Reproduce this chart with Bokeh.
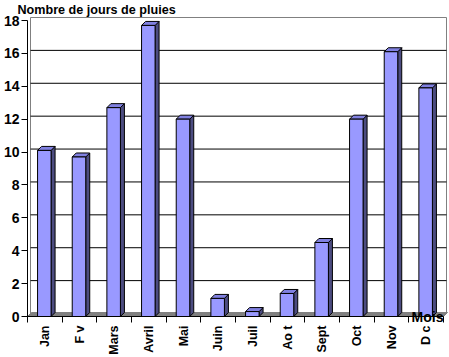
import math
from bokeh.plotting import figure
from bokeh.models import Range1d, FixedTicker, Label
from bokeh.embed import file_html
from bokeh.resources import INLINE

months = ["Jan", "F v", "Mars", "Avril", "Mai", "Juin", "Juil", "Ao t", "Sept", "Oct", "Nov", "D c"]
rain_days = [10.1, 9.7, 12.7, 17.7, 12.0, 1.1, 0.3, 1.4, 4.5, 12.0, 16.1, 13.9]
y_ticks = [0, 2, 4, 6, 8, 10, 12, 14, 16, 18]
title_text = "Nombre de jours de pluies"
x_title = "Mois"

FONT = "Liberation Sans"
n = len(months)
X0, X1 = -0.5, n - 0.5    # category area

# frame covers the whole canvas; axes are placed at fixed locations
PX_X = 416 / n
PX_Y = 296 / 18
DX, DY = 4 / PX_X, 4 / PX_Y       # bar depth
WX, WY = 3 / PX_X, 3 / PX_Y       # back wall offset
L, R = 0.29, 0.68                 # front face position inside a category
x_start = X0 - 27 / PX_X
y_end = 316 / PX_Y
p = figure(width=449, height=357,
           x_range=Range1d(x_start, x_start + 449 / PX_X),
           y_range=Range1d(y_end - 357 / PX_Y, y_end),
           output_backend="svg", toolbar_location=None, min_border=0)
p.title.visible = False
p.outline_line_color = None
p.xgrid.visible = False
p.ygrid.visible = False
p.background_fill_color = "white"
p.border_fill_color = "white"

# floor
p.patch([X0, X1, X1 + DX, X0 + DX], [0, 0, DY, DY], fill_color="#808080", line_color="#808080")

# wall edges and gridlines
p.segment(x0=[X0 + WX, X1 + WX], y0=[WY, WY], x1=[X0 + WX, X1 + WX], y1=[18 + WY, 18 + WY],
          line_color="#808080", line_width=1)
grid_y = [v + WY for v in y_ticks[1:-1]]
p.segment(x0=[X0 + WX] * len(grid_y), y0=grid_y, x1=[X1 + WX] * len(grid_y), y1=grid_y,
          line_color="black", line_width=1)
p.segment(x0=[X0 + WX], y0=[18 + WY], x1=[X1 + WX], y1=[18 + WY], line_color="#808080", line_width=1)

# bars
lefts = [i - 0.5 + L for i in range(n)]
rights = [i - 0.5 + R for i in range(n)]
side_xs = [[r, r + DX, r + DX, r] for r in rights]
side_ys = [[0, DY, v + DY, v] for v in rain_days]
top_xs = [[l, l + DX, r + DX, r] for l, r in zip(lefts, rights)]
top_ys = [[v, v + DY, v + DY, v] for v in rain_days]
p.patches(side_xs, side_ys, fill_color="#4C4C80", line_color="black", line_width=1)
p.patches(top_xs, top_ys, fill_color="#8080E0", line_color="black", line_width=1)
p.quad(left=lefts, right=rights, bottom=0, top=rain_days,
       fill_color="#9999FF", line_color="black", line_width=1)

# y axis
ya = p.yaxis[0]
ya.fixed_location = X0
ya.bounds = (0, 18)
ya.ticker = FixedTicker(ticks=y_ticks)
ya.major_label_text_font = FONT
ya.major_label_text_font_style = "bold"
ya.major_label_text_font_size = "14px"
ya.major_label_text_color = "black"
ya.major_tick_out = 6
ya.major_tick_in = 0
ya.minor_tick_line_color = None
ya.major_label_standoff = 2
ya.axis_line_color = "black"

# x axis
xa = p.xaxis[0]
xa.fixed_location = 0
xa.bounds = (X0, X1)
xa.ticker = FixedTicker(ticks=list(range(n)), minor_ticks=[i - 0.5 for i in range(n + 1)])
xa.major_label_overrides = {i: m for i, m in enumerate(months)}
xa.major_label_orientation = math.pi / 2
xa.major_label_text_font = FONT
xa.major_label_text_font_style = "bold"
xa.major_label_text_font_size = "12.5px"
xa.major_label_text_color = "black"
xa.major_label_standoff = 3
xa.major_tick_out = 0
xa.major_tick_in = 0
xa.minor_tick_out = 6
xa.minor_tick_in = 0
xa.minor_tick_line_color = "black"
xa.axis_line_color = "black"

p.add_layout(Label(x=X0 + 416 / PX_X, y=-0.06, text=x_title, text_align="right", text_baseline="middle",
                   text_font=FONT, text_font_style="bold", text_font_size="14px", text_color="black"))
p.add_layout(Label(x=X0 - 10 / PX_X, y=y_end - 9.5 / PX_Y, text=title_text, text_align="left",
                   text_baseline="alphabetic",
                   text_font=FONT, text_font_style="bold", text_font_size="12.6px", text_color="black"))

open("out.html", "w").write(file_html(p, INLINE))
